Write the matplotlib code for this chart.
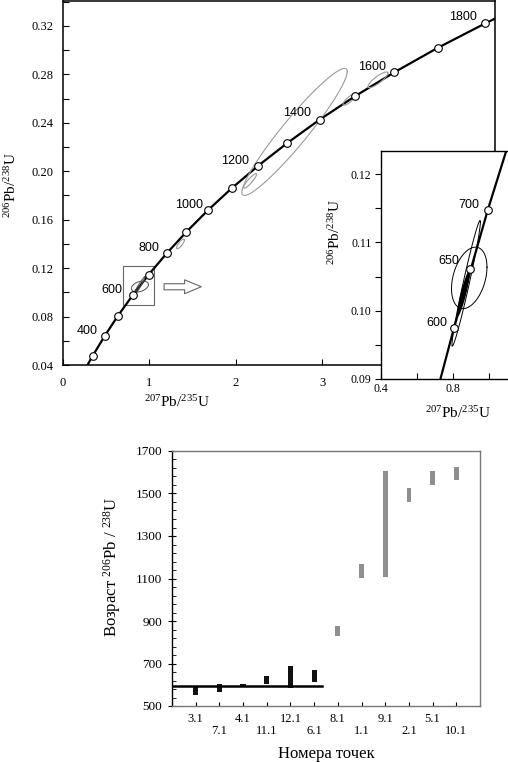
import numpy as np
import matplotlib
matplotlib.use("Agg")
import matplotlib.pyplot as plt
from matplotlib.ticker import MultipleLocator, FixedLocator

plt.rcParams['font.family'] = ['Liberation Serif', 'DejaVu Serif']
plt.rcParams['mathtext.fontset'] = 'custom'
plt.rcParams['mathtext.rm'] = 'Liberation Serif'
plt.rcParams['mathtext.it'] = 'Liberation Serif:italic'
plt.rcParams['mathtext.bf'] = 'Liberation Serif:bold'

# ---------------- data: concordia (207Pb/235U, 206Pb/238U) ----------------
conc_age = [250, 300, 400, 500, 600, 700, 800, 900, 1000, 1100, 1200, 1300,
            1400, 1500, 1600, 1700, 1800, 1850]
conc_x = [0.2792, 0.3438, 0.4828, 0.6362, 0.8056, 0.9925, 1.1988, 1.4264,
          1.6775, 1.9546, 2.2603, 2.5977, 2.9700, 3.3809, 3.8343, 4.3346,
          4.8867, 5.1839]
conc_y = [0.0395, 0.0476, 0.0640, 0.0807, 0.0975, 0.1147, 0.1321, 0.1498,
          0.1678, 0.1861, 0.2046, 0.2234, 0.2426, 0.2620, 0.2817, 0.3018,
          0.3221, 0.3324]
marked_ages = [300, 400, 500, 600, 700, 800, 900, 1000, 1100, 1200, 1300,
               1400, 1500, 1600, 1700, 1800]

main_labels = ['400', '600', '800', '1000', '1200', '1400', '1600', '1800']
main_label_x = [0.277, 0.566, 0.994, 1.457, 1.988, 2.705, 3.572, 4.624]
main_label_y = [0.0681, 0.1019, 0.1366, 0.1722, 0.2085, 0.2481, 0.2861, 0.3274]

# inset concordia points
ins_age = [600, 650, 700]
ins_x = [0.8056, 0.8968, 0.9925]
ins_y = [0.0975, 0.1061, 0.1147]
ins_labels = ['600', '650', '700']
ins_label_x = [0.713, 0.774, 0.889]
ins_label_y = [0.0982, 0.1073, 0.1154]

# error ellipses: centre, half-extent in x and y, correlation
gray_cx = [2.68, 2.165, 3.32, 3.645, 1.36]
gray_sx = [0.61, 0.075, 0.08, 0.115, 0.045]
gray_cy = [0.2325, 0.192, 0.2595, 0.2755, 0.140]
gray_sy = [0.0525, 0.006, 0.005, 0.0065, 0.004]
gray_rho = [0.95, 0.90, 0.85, 0.85, 0.80]

blk_cx = [0.890, 0.873, 0.858]
blk_sx = [0.0985, 0.079, 0.036]
blk_cy = [0.1048, 0.1040, 0.1025]
blk_sy = [0.00450, 0.0092, 0.0034]
blk_rho = [0.35, 0.975, 0.90]
blk_fill = [False, False, True]

# ---------------- data: ages per analysis point ----------------
points = ['3.1', '7.1', '4.1', '11.1', '12.1', '6.1', '8.1', '1.1', '9.1',
          '2.1', '5.1', '10.1']
age_lo = [552, 566, 588, 603, 584, 615, 828, 1104, 1106, 1462, 1539, 1564]
age_hi = [596, 604, 605, 643, 690, 670, 878, 1166, 1607, 1524, 1607, 1623]
is_concordant = [True, True, True, True, True, True, False, False, False,
                 False, False, False]
mean_age = 596
age_ticks = [500, 700, 900, 1100, 1300, 1500, 1700]


def ellipse_xy(cx, sx, cy, sy, rho, n=240):
    t = np.linspace(0, 2 * np.pi, n)
    x = cx + sx * np.cos(t)
    y = cy + sy * (rho * np.cos(t) + np.sqrt(1 - rho ** 2) * np.sin(t))
    return x, y


W, H = 508, 762
fig = plt.figure(figsize=(W / 100, H / 100), dpi=100)
fig.patch.set_facecolor('white')


def px(x, y):
    return x / W, 1 - y / H


# ---------------- main concordia axes ----------------
ax = fig.add_axes([63 / W, 1 - 365 / H, (495 - 63) / W, 364.5 / H])
ax.set_xlim(0, 5.0)
ax.set_ylim(0.04, 0.341)
ax.plot(conc_x, conc_y, color='black', lw=1.6, zorder=3)
mx = [conc_x[conc_age.index(a)] for a in marked_ages]
my = [conc_y[conc_age.index(a)] for a in marked_ages]
ax.plot(mx, my, 'o', ms=5.5, mfc='white', mec='black', mew=0.8, zorder=5)
for i in range(len(gray_cx)):
    ex, ey = ellipse_xy(gray_cx[i], gray_sx[i], gray_cy[i], gray_sy[i], gray_rho[i])
    ax.plot(ex, ey, color='#9a9a9a', lw=0.8, zorder=4)
for i in range(len(blk_cx)):
    ex, ey = ellipse_xy(blk_cx[i], blk_sx[i], blk_cy[i], blk_sy[i], blk_rho[i])
    if blk_fill[i]:
        ax.fill(ex, ey, color='#333333', lw=0, zorder=4)
    else:
        ax.plot(ex, ey, color='#555555', lw=0.7, zorder=4)
for t, x, y in zip(main_labels, main_label_x, main_label_y):
    ax.text(x, y, t, family='Liberation Sans', fontsize=9, ha='center',
            va='center', zorder=6)
# zoom box and arrow
ax.add_patch(plt.Rectangle((0.70, 0.0895), 0.35, 0.032, fill=False,
                           ec='#666666', lw=0.8, zorder=2))
ax.annotate('', xy=(1.60, 0.1046), xytext=(1.17, 0.1046),
            arrowprops=dict(arrowstyle='simple,head_length=0.6,head_width=0.5,tail_width=0.22',
                            mutation_scale=20, fc='white', ec='#666666', lw=0.8,
                            shrinkA=0, shrinkB=0))

ax.xaxis.set_major_locator(FixedLocator([0, 1, 2, 3, 4, 5]))
ax.set_xticklabels(['0', '1', '2', '3', '', ''])
ax.yaxis.set_major_locator(MultipleLocator(0.04))
ax.yaxis.set_minor_locator(MultipleLocator(0.02))
ax.yaxis.set_major_formatter(matplotlib.ticker.FormatStrFormatter('%.2f'))
ax.tick_params(axis='both', which='both', direction='in', length=4, width=0.8,
               labelsize=9)
ax.tick_params(axis='x', pad=9)
ax.tick_params(axis='y', pad=7)
for s in ax.spines.values():
    s.set_linewidth(1.1)
fig.text(*px(177, 402), r'$^{207}$Pb/$^{235}$U', fontsize=11, ha='center', va='center')
fig.text(*px(11, 185), r'$^{206}$Pb/$^{238}$U', fontsize=11, ha='center',
         va='center', rotation=90)

# ---------------- inset ----------------
axi = fig.add_axes([381 / W, 1 - 379 / H, (513 - 381) / W, (379 - 151) / H])
axi.set_facecolor('white')
axi.set_zorder(5)
axi.set_xlim(0.4, 1.133)
axi.set_ylim(0.09, 0.12337)
axi.plot(conc_x, conc_y, color='black', lw=1.6, zorder=2)
for i in range(len(blk_cx)):
    ex, ey = ellipse_xy(blk_cx[i], blk_sx[i], blk_cy[i], blk_sy[i], blk_rho[i])
    if blk_fill[i]:
        axi.fill(ex, ey, color='black', lw=0, zorder=3)
    else:
        axi.plot(ex, ey, color='black', lw=0.7, zorder=3)
axi.plot(ins_x, ins_y, 'o', ms=5.5, mfc='white', mec='black', mew=0.8, zorder=5)
for t, x, y in zip(ins_labels, ins_label_x, ins_label_y):
    axi.text(x, y, t, family='Liberation Sans', fontsize=9, ha='center',
             va='center', zorder=6)
axi.xaxis.set_major_locator(FixedLocator([0.4, 0.8]))
axi.xaxis.set_minor_locator(FixedLocator([0.6, 1.0]))
axi.xaxis.set_major_formatter(matplotlib.ticker.FormatStrFormatter('%.1f'))
axi.yaxis.set_major_locator(MultipleLocator(0.01))
axi.yaxis.set_minor_locator(MultipleLocator(0.005))
axi.yaxis.set_major_formatter(matplotlib.ticker.FormatStrFormatter('%.2f'))
axi.tick_params(axis='both', which='both', length=4, width=0.8, labelsize=8.5)
axi.tick_params(axis='x', which='both', direction='in', pad=3)
axi.tick_params(axis='y', which='both', direction='out', pad=3)
axi.spines['right'].set_visible(False)
for s in axi.spines.values():
    s.set_linewidth(1.0)
fig.text(*px(458, 413), r'$^{207}$Pb/$^{235}$U', fontsize=11, ha='center', va='center')
fig.text(*px(335, 232), r'$^{206}$Pb/$^{238}$U', fontsize=11, ha='center',
         va='center', rotation=90)

# ---------------- bottom: ages ----------------
axb = fig.add_axes([172 / W, 1 - 706 / H, (480 - 172) / W, (706 - 451) / H])
xpos = np.arange(1, len(points) + 1)
colors = ['#111111' if c else '#8e8e8e' for c in is_concordant]
widths = [0.22 if c else 0.2 for c in is_concordant]
axb.bar(xpos, np.array(age_hi) - np.array(age_lo), bottom=age_lo,
        width=widths, color=colors, lw=0, zorder=3)
axb.plot([0, 6.35], [mean_age, mean_age], color='black', lw=1.8, zorder=4)
axb.set_xlim(0, 13)
axb.set_ylim(500, 1700)
axb.set_xticks(xpos)
axb.set_xticklabels([p if i % 2 == 0 else '\n' + p for i, p in enumerate(points)],
                    fontsize=9, linespacing=1.05)
axb.yaxis.set_major_locator(FixedLocator(age_ticks))
axb.yaxis.set_minor_locator(FixedLocator(np.arange(age_ticks[0], age_ticks[-1] + 1, 40)))
axb.tick_params(axis='x', direction='in', length=3, width=0.8, pad=5)
axb.tick_params(axis='y', which='major', direction='inout', length=6, width=0.8,
                labelsize=9.5, pad=4)
axb.tick_params(axis='y', which='minor', direction='in', length=3, width=0.6)
for k in ['top', 'right', 'bottom']:
    axb.spines[k].set_color('#777777')
    axb.spines[k].set_linewidth(1.0)
axb.spines['left'].set_linewidth(1.0)
axb.set_xlabel('Номера точек', fontsize=12, labelpad=6)
fig.text(*px(112, 567), 'Возраст $^{206}$Pb / $^{238}$U', fontsize=12,
         ha='center', va='center', rotation=90)

fig.savefig('out.png', dpi=100, facecolor='white')
